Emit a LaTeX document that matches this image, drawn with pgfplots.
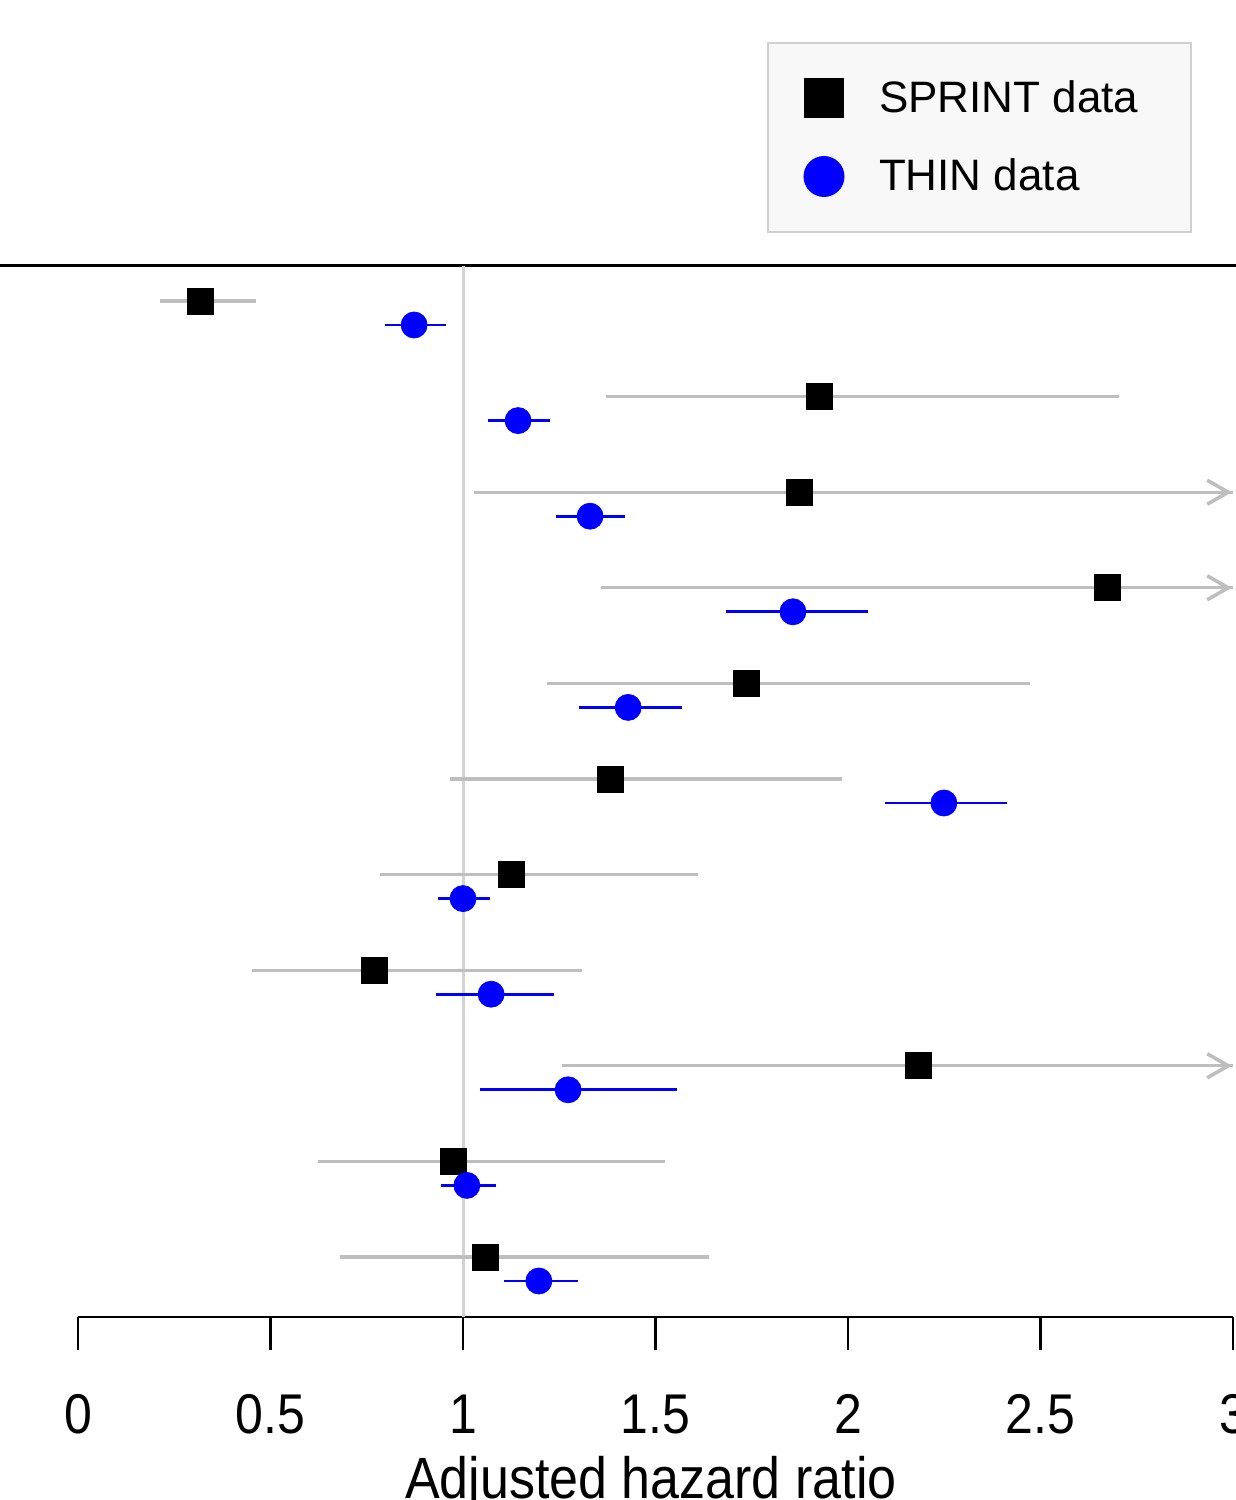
\documentclass[border=0pt]{standalone}
\usepackage{fontspec}
\setmainfont{Liberation Sans}
\usepackage{pgfplots}
\pgfplotsset{compat=1.18}
\usepackage{pgfplotstable}
\usetikzlibrary{arrows.meta}

\definecolor{cigray}{HTML}{BEBEBE}
\definecolor{refgray}{HTML}{D3D3D3}
\definecolor{legfill}{HTML}{F8F8F8}
\definecolor{legdraw}{HTML}{D0D0D0}

% hazard ratio, row position, lower and upper CI (upper 3.0 = off the scale)
\pgfplotstableread{
x     y       lo     hi
0.317 -301    0.213  0.462
1.925 -396.6  1.371  2.704
1.873 -492.2  1.029  3.0
2.673 -587.8  1.358  3.0
1.735 -683.4  1.218  2.473
1.384 -779    0.966  1.984
1.125 -874.6  0.784  1.610
0.769 -970.2  0.452  1.309
2.182 -1065.8 1.257  3.0
0.974 -1161.4 0.623  1.525
1.057 -1257   0.681  1.639
}\sprint

\pgfplotstableread{
x     y       lo     hi
0.873 -325    0.797  0.956
1.143 -420.6  1.065  1.226
1.330 -516.2  1.242  1.421
1.857 -611.8  1.683  2.052
1.429 -707.4  1.301  1.569
2.249 -803    2.096  2.413
1.000 -898.6  0.935  1.070
1.073 -994.2  0.930  1.236
1.273 -1089.8 1.044  1.556
1.010 -1185.4 0.943  1.086
1.197 -1281   1.106  1.299
}\thin

\begin{document}
\begin{tikzpicture}
\begin{axis}[
    x=192.5pt, y=0.5pt,
    xmin=-0.2026, xmax=3.0078,
    ymin=-1317, ymax=-266,
    clip=false,
    axis x line*=bottom,
    axis y line=none,
    x axis line style={draw=none},
    xtick={0,0.5,1,1.5,2,2.5,3},
    xticklabels={0,0.5,1,1.5,2,2.5,3},
    tick align=outside,
    major tick length=16.5pt,
    xtick style={black, line width=1.15pt},
    xticklabel style={font=\fontsize{25}{30}\selectfont, anchor=base,
                      yshift=-41.5pt, transform shape, yscale=1.12},
    xlabel={Adjusted hazard ratio},
    xlabel style={at={(axis cs:1.488,-1317)}, anchor=base, yshift=-90.5pt,
                  font=\fontsize{26}{31}\selectfont, transform shape, yscale=1.12},
    legend image code/.code={\draw[#1] plot coordinates {(0pt,0pt)};},
    legend style={at={(axis cs:1.7896,-42)}, anchor=north west,
                  draw=legdraw, fill=legfill, line width=1pt,
                  font=\fontsize{22}{26}\selectfont,
                  inner xsep=18.25pt, inner ysep=18pt, row sep=20pt,
                  nodes={inner sep=0pt},
                  /tikz/every odd column/.append style={column sep=17.75pt}},
    legend cell align=left,
]
\addlegendimage{mark=square*, mark size=9.5pt, black}
\addlegendentry{SPRINT data\hspace*{8.25pt}}
\addlegendimage{mark=*, mark size=9.75pt, blue}
\addlegendentry{THIN data}

\coordinate (bbtl) at (axis cs:-0.2026,0);
\coordinate (bbbr) at (axis cs:3.0078,-1500);

\draw[black, line width=1.5pt] (axis cs:-0.3,-266) -- (axis cs:3.1,-266);
\draw[black, line width=1.15pt] (axis cs:0,-1317) -- (axis cs:3,-1317);
\addplot[forget plot, refgray, line width=1.5pt] coordinates {(1,-266) (1,-1317)};

\addplot[forget plot, only marks, mark=square*, mark size=6.5pt, black,
    error bars/.cd, x dir=both, x explicit, error mark=none,
    error bar style={cigray, line width=1.6pt}]
    table[x=x, y=y, x error plus expr=\thisrow{hi}-\thisrow{x},
          x error minus expr=\thisrow{x}-\thisrow{lo}] {\sprint};
\addplot[forget plot, cigray, line width=1.6pt,
    -{Straight Barb[length=10.5pt,width=12pt,line width=1.8pt]}]
    coordinates {(2.9,-492.2) (2.997,-492.2)};
\addplot[forget plot, cigray, line width=1.6pt,
    -{Straight Barb[length=10.5pt,width=12pt,line width=1.8pt]}]
    coordinates {(2.9,-587.8) (2.997,-587.8)};
\addplot[forget plot, cigray, line width=1.6pt,
    -{Straight Barb[length=10.5pt,width=12pt,line width=1.8pt]}]
    coordinates {(2.9,-1065.8) (2.997,-1065.8)};

\addplot[forget plot, only marks, mark=*, mark size=6.5pt, blue,
    error bars/.cd, x dir=both, x explicit, error mark=none,
    error bar style={blue, line width=1.35pt}]
    table[x=x, y=y, x error plus expr=\thisrow{hi}-\thisrow{x},
          x error minus expr=\thisrow{x}-\thisrow{lo}] {\thin};
\end{axis}
\pgfresetboundingbox
\path[use as bounding box] (bbtl) rectangle (bbbr);
\end{tikzpicture}
\end{document}
